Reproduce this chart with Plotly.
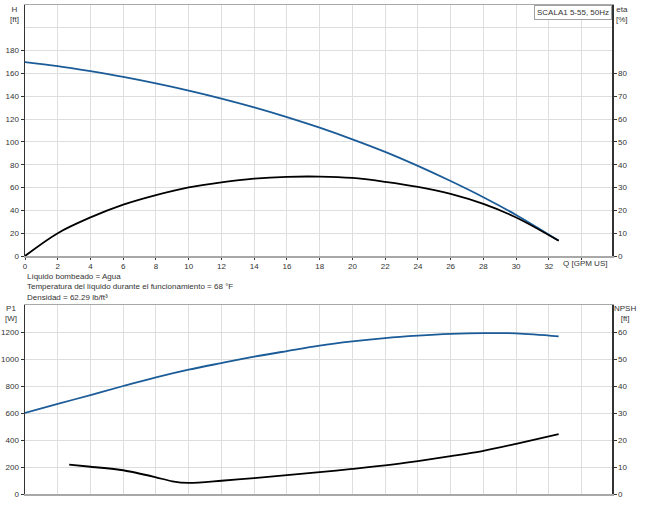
import plotly.graph_objects as go

# ---------------- data ----------------
q_h = [0, 2, 4, 6, 8, 10, 12, 14, 16, 18, 20, 22, 24, 26, 28, 30, 32.6]
head_ft = [170, 166.5, 162, 157, 151.3, 145, 138, 130.3, 121.8, 112.5, 102.3, 91.3, 79, 65.7, 51.5, 36, 13.5]

q_eta = [0, 2, 4, 6, 8, 10, 12, 14, 16, 18, 20, 22, 24, 26, 28, 30, 32.6]
eta_pct = [0, 10.0, 16.9, 22.5, 26.7, 30.1, 32.3, 33.9, 34.7, 34.8, 34.2, 32.5, 30.3, 27.2, 22.8, 16.9, 6.7]

q_p1 = [0, 2, 4, 6, 8, 10, 12, 14, 16, 18, 20, 22, 24, 26, 28, 30, 32.6]
p1_w = [600, 667, 733, 800, 864, 921, 970, 1017, 1059, 1099, 1130, 1155, 1173, 1186, 1192, 1190, 1168]

q_npsh = [2.7, 4, 6, 8, 9, 10, 12, 14, 16, 18, 20, 22, 24, 26, 28, 30, 32.6]
npsh_ft = [10.9, 10.1, 8.8, 6.2, 4.7, 4.1, 4.9, 5.9, 7.0, 8.1, 9.3, 10.6, 12.2, 14.0, 16.0, 18.6, 22.2]

x_ticks = list(range(0, 36, 2))
x_ticktext = [str(v) for v in x_ticks[:-1]] + [""]
h_ticks = list(range(0, 200, 20))
eta_ticks = list(range(0, 90, 10))
p1_ticks = list(range(0, 1400, 200))
npsh_ticks = list(range(0, 70, 10))

title_text = "SCALA1 5-55, 50Hz"
info_lines = [
    "Líquido bombeado = Agua",
    "Temperatura del líquido durante el funcionamiento = 68 °F",
    "Densidad = 62.29 lb/ft³",
]

# ---------------- styling ----------------
FONT = "Liberation Sans, Arial, sans-serif"
TXT = "#333333"
GRID = "#dedede"
BLUE = "#1b5c98"
W, H = 646, 513
ML, MR, MT, MB = 25, 34, 5, 19
PW, PH = W - ML - MR, H - MT - MB


def px_x(px):
    return (px - ML) / PW


def px_y(py):
    return (H - MB - py) / PH


fig = go.Figure()
fig.add_trace(go.Scatter(x=q_h, y=head_ft, mode="lines", line=dict(color=BLUE, width=1.8, shape="spline"),
                         xaxis="x", yaxis="y", showlegend=False))
fig.add_trace(go.Scatter(x=q_eta, y=eta_pct, mode="lines", line=dict(color="black", width=1.8, shape="spline"),
                         xaxis="x", yaxis="y2", showlegend=False))
fig.add_trace(go.Scatter(x=q_p1, y=p1_w, mode="lines", line=dict(color=BLUE, width=1.8, shape="spline"),
                         xaxis="x2", yaxis="y3", showlegend=False))
fig.add_trace(go.Scatter(x=q_npsh, y=npsh_ft, mode="lines", line=dict(color="black", width=1.8, shape="spline", smoothing=0.8),
                         xaxis="x2", yaxis="y4", showlegend=False))

x_range = [0, PW / 16.37]
top_dom = [px_y(256), 1]
bot_dom = [0, px_y(305)]

common_tick = dict(ticks="outside", ticklen=3, tickcolor=TXT, tickfont=dict(size=8, color=TXT, family=FONT),
                   zeroline=False, automargin=False)

fig.update_layout(
    width=W, height=H,
    margin=dict(l=ML, r=MR, t=MT, b=MB, pad=0, autoexpand=False),
    paper_bgcolor="white", plot_bgcolor="white",
    font=dict(family=FONT, size=8, color=TXT),
    hovermode=False,
    xaxis=dict(domain=[0, 1], anchor="y", range=x_range, tickvals=x_ticks, ticktext=x_ticktext,
               showgrid=True, gridcolor=GRID, showline=True, linecolor="#a8a8a8", linewidth=1.5, mirror=True,
               **{**common_tick, "ticklen": 2}),
    yaxis=dict(domain=top_dom, anchor="x", range=[0, 220], tickvals=h_ticks, showgrid=True, gridcolor=GRID,
               showline=True, linecolor="#333333", linewidth=1.5,
               minor=dict(tickvals=[200], showgrid=True, gridcolor=GRID, ticks=""),
               **common_tick),
    yaxis2=dict(overlaying="y", anchor="x", side="right", range=[0, 110], tickvals=eta_ticks, showgrid=False,
                showline=True, linecolor="#333333", linewidth=1.5, **common_tick),
    xaxis2=dict(domain=[0, 1], anchor="y3", range=x_range, tickvals=x_ticks, showticklabels=False, ticks="",
                showgrid=True, gridcolor=GRID, showline=True, linecolor="#a8a8a8", linewidth=1.5, mirror=True,
                zeroline=False, automargin=False),
    yaxis3=dict(domain=bot_dom, anchor="x2", range=[0, 1400], tickvals=p1_ticks, showgrid=True, gridcolor=GRID,
                showline=True, linecolor="#333333", linewidth=1.5, **common_tick),
    yaxis4=dict(overlaying="y3", anchor="x2", side="right", range=[0, 70], tickvals=npsh_ticks, showgrid=False,
                showline=True, linecolor="#333333", linewidth=1.5, **common_tick),
)

ann = []


def add_text(text, px, py, xanchor="center", yanchor="middle", **kw):
    ann.append(dict(text=text, xref="paper", yref="paper", x=px_x(px), y=px_y(py), xanchor=xanchor,
                    yanchor=yanchor, showarrow=False, font=dict(size=8, color=TXT, family=FONT), **kw))


add_text("H<br>[ft]", 14, 14)
add_text("eta<br>[%]", 622, 15)
add_text("P1<br>[W]", 11, 313)
add_text("NPSH<br>[ft]", 625, 313)
add_text("Q [GPM US]", 585, 263)
for i, line in enumerate(info_lines):
    add_text(line, 25, 276 + i * 10.6, xanchor="left")
ann.append(dict(text=title_text, xref="paper", yref="paper", x=1, y=1, xanchor="right", yanchor="top",
                showarrow=False, font=dict(size=8, color=TXT, family=FONT), bgcolor="white",
                bordercolor="#a0a0a0", borderwidth=1, borderpad=2))
fig.update_layout(annotations=ann)

fig.write_html("out.html",
               config={"displayModeBar": False, "staticPlot": True},
               post_script="document.body.style.margin='0';document.body.style.padding='0';"
                           "document.body.style.overflow='hidden';")
